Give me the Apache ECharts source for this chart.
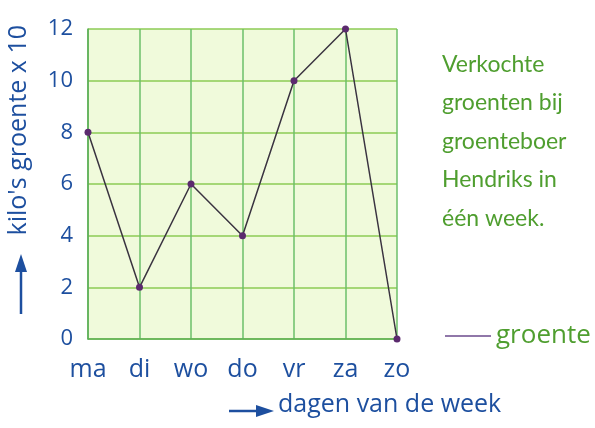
<!DOCTYPE html>
<html>
<head>
<meta charset="utf-8">
<script src="https://cdn.jsdelivr.net/npm/echarts@6/dist/echarts.min.js"></script>
<style>
  html, body { margin: 0; padding: 0; background: #fff; }
  #main { width: 595px; height: 428px; }
</style>
</head>
<body>
<div id="main"></div>
<script>
// dagen (x-as) en verkochte kilo's x 10 (y-as)
var dagen = ['ma', 'di', 'wo', 'do', 'vr', 'za', 'zo'];
var groente = [8, 2, 6, 4, 10, 12, 0];
var yTicks = [0, 2, 4, 6, 8, 10, 12];

var blauw = '#1d4f9f';
var groen = '#4f9e2f';

var myChart = echarts.init(document.getElementById('main'));

var option = {
  backgroundColor: '#fff',
  textStyle: { fontFamily: 'Open Sans' },
  title: {//tekst rechts
    text: 'Verkochte\ngroenten bij\ngroenteboer\nHendriks in\néén week.',
    left: 437,
    top: 40,
    textStyle: { color: groen, fontSize: 23, fontWeight: 'normal', lineHeight: 38.5, fontFamily: 'Lato' }
  },
  legend: {
    data: ['groente'],
    left: 440,
    top: 318,
    icon: 'rect',
    itemWidth: 46,
    itemHeight: 1.5,
    itemGap: 5,
    itemStyle: { color: '#6b4a8c' },
    textStyle: { color: groen, fontSize: 26, fontFamily: 'Open Sans' }
  },
  grid: {
    left: 88,
    right: 198,
    top: 29,
    bottom: 89,
    show: true,
    backgroundColor: '#f0fadb',
    borderWidth: 0
  },
  xAxis: {
    type: 'category',
    data: dagen,
    boundaryGap: false,
    axisTick: { show: false },
    axisLine: { lineStyle: { color: '#5cae55', width: 1.5 } },
    splitLine: { show: true, lineStyle: { color: '#6cbf6a', width: 1.5 } },
    axisLabel: { color: blauw, fontSize: 25, margin: 18, fontFamily: 'Open Sans' }
  },
  yAxis: {
    type: 'value',
    min: 0,
    max: 12,
    interval: 2,
    axisTick: { show: false },
    axisLine: { show: true, lineStyle: { color: '#5cae55', width: 1.5 } },
    splitLine: { show: true, lineStyle: { color: '#8ccb55', width: 1.5 } },
    axisLabel: {
      color: blauw, fontSize: 22, margin: 15, fontFamily: 'Open Sans',
      formatter: function (v) { return yTicks.indexOf(v) >= 0 ? String(v) : ''; }
    }
  },
  graphic: [
    {//y-as naam
      type: 'text',
      left: 6,
      top: 25,
      rotation: Math.PI / 2,
      style: { text: "kilo's groente x 10", fill: blauw, font: '25px "Open Sans"' },
      originX: 0, originY: 0
    },
    {//pijl omhoog
      type: 'line',
      shape: { x1: 21, y1: 314, x2: 21, y2: 268 },
      style: { stroke: blauw, lineWidth: 2.5 }
    },
    {
      type: 'polygon',
      shape: { points: [[15, 272], [27, 272], [21, 254]] },
      style: { fill: blauw }
    },
    {//pijl naar rechts
      type: 'line',
      shape: { x1: 229, y1: 411, x2: 260, y2: 411 },
      style: { stroke: blauw, lineWidth: 2.5 }
    },
    {
      type: 'polygon',
      shape: { points: [[256, 405], [256, 417], [274, 411]] },
      style: { fill: blauw }
    },
    {
      type: 'text',
      left: 278,
      top: 392,
      style: { text: 'dagen van de week', fill: blauw, font: '25px "Open Sans"' }
    }
  ],
  series: [{
    name: 'groente',
    type: 'line',
    data: groente,
    symbol: 'circle',
    symbolSize: 7,
    itemStyle: { color: '#5b2a6e' },
    lineStyle: { color: '#3a3340', width: 1.5 }
  }]
};

myChart.setOption(option);
</script>
</body>
</html>
